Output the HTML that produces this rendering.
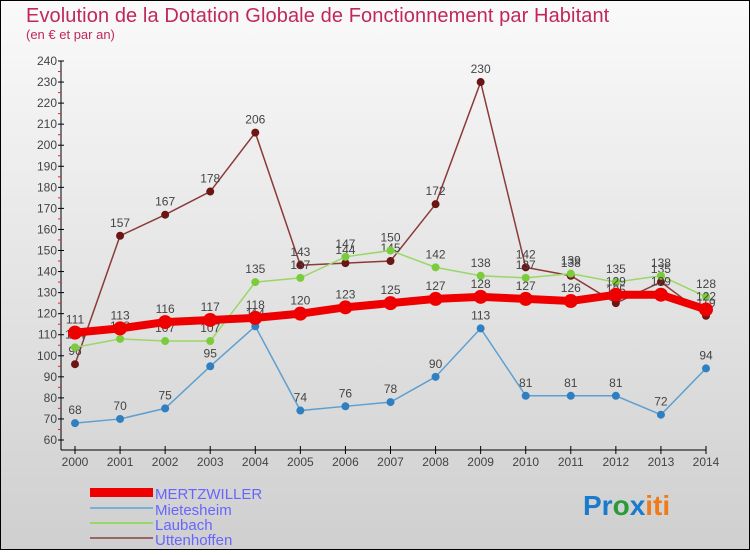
<!DOCTYPE html>
<html><head><meta charset="utf-8"><style>
html,body{margin:0;padding:0}
body{width:750px;height:550px;overflow:hidden;font-family:"Liberation Sans",sans-serif}
svg text{font-family:"Liberation Sans",sans-serif}
</style></head><body>
<svg id="chart" width="750" height="550" xmlns="http://www.w3.org/2000/svg">
<defs><linearGradient id="bg" x1="0" y1="0" x2="0" y2="1"><stop offset="0" stop-color="#fafafa"/><stop offset="1" stop-color="#cfcfcf"/></linearGradient></defs>
<rect x="0.5" y="0.5" width="749" height="549" fill="url(#bg)" stroke="#000"/>
<text x="26" y="22" font-size="20" letter-spacing="0.1" fill="#c0285a">Evolution de la Dotation Globale de Fonctionnement par Habitant</text>
<text x="26" y="39" font-size="13" fill="#c0285a">(en € et par an)</text>
<g id="axes"></g><g id="series"></g>
<g>
<rect x="90" y="488" width="63" height="9" fill="#e00"/>
<text x="155" y="499" font-size="15" fill="#66f">MERTZWILLER</text>
<line x1="90" y1="508" x2="153" y2="508" stroke="#78aed8" stroke-width="2"/>
<text x="155" y="515" font-size="15" fill="#66f">Mietesheim</text>
<line x1="90" y1="523" x2="153" y2="523" stroke="#99d766" stroke-width="2"/>
<text x="155" y="530" font-size="15" fill="#66f">Laubach</text>
<line x1="90" y1="538" x2="153" y2="538" stroke="#966" stroke-width="2"/>
<text x="155" y="545" font-size="15" fill="#66f">Uttenhoffen</text>
</g>
<text x="583" y="515" font-size="28" font-weight="bold"><tspan fill="#1a7acc">Pr</tspan><tspan fill="#2a9a3a">o</tspan><tspan fill="#1a7acc">x</tspan><tspan fill="#f07b1a">iti</tspan></text>
</svg>
<script>
const years=[2000,2001,2002,2003,2004,2005,2006,2007,2008,2009,2010,2011,2012,2013,2014];
const yTicks=[60,70,80,90,100,110,120,130,140,150,160,170,180,190,200,210,220,230,240];
const mertzwiller=[111,113,116,117,118,120,123,125,127,128,127,126,129,129,122];
const mietesheim=[68,70,75,95,114,74,76,78,90,113,81,81,81,72,94];
const laubach=[104,108,107,107,135,137,147,150,142,138,137,139,135,138,128];
const uttenhoffen=[96,157,167,178,206,143,144,145,172,230,142,138,125,135,119];
const NS="http://www.w3.org/2000/svg";
const xS=i=>75+i*(706-75)/(years.length-1);
const yS=v=>440-(v-60)*(379/180);
function mk(t,a,p){const e=document.createElementNS(NS,t);for(const k in a)e.setAttribute(k,a[k]);p.appendChild(e);return e;}
const ax=document.getElementById('axes');
const yl=mk('line',{x1:61,y1:yS(240),x2:61,y2:450,stroke:'#000'},ax);


const xl=mk('line',{x1:61,y1:450,x2:706,y2:450,stroke:'#000'},ax);


yTicks.forEach(v=>{
 mk('line',{x1:58,y1:yS(v),x2:64,y2:yS(v),stroke:'#000'},ax);
 if(v<240)mk('line',{x1:58,y1:yS(v+5),x2:61,y2:yS(v+5),stroke:'#e22'},ax);
 const t=mk('text',{x:57,y:yS(v)+4,'font-size':12,fill:'#444','text-anchor':'end'},ax);t.textContent=v;
 
 
});
years.forEach((y,i)=>{
 mk('line',{x1:xS(i),y1:446,x2:xS(i),y2:454,stroke:'#000'},ax);
 const t=mk('text',{x:xS(i),y:466,'font-size':12,fill:'#444','text-anchor':'middle'},ax);t.textContent=y;
 
 
});
const sg=document.getElementById('series');
function series(data,name,col,dot,w,r){
 const g=mk('g',{},sg);
 
 
 mk('polyline',{points:data.map((v,i)=>xS(i)+','+yS(v)).join(' '),fill:'none',stroke:col,'stroke-width':w},g);
 data.forEach((v,i)=>{
  const c=mk('circle',{cx:xS(i),cy:yS(v),r:r,fill:dot},g);
  
  
  const t=mk('text',{x:xS(i),y:yS(v)-9,'font-size':12,fill:'#444','text-anchor':'middle'},g);t.textContent=v;
  
  
 });
}
series(uttenhoffen,'uttenhoffen','#8b3a3a','#6b1515',1.5,4);
series(laubach,'laubach','#99d766','#7acc3a',1.5,4);
series(mietesheim,'mietesheim','#5d9fd0','#2f7fc1',1.5,4);
series(mertzwiller,'mertzwiller','#e00','#e00',8,7);
</script>
</body></html>
